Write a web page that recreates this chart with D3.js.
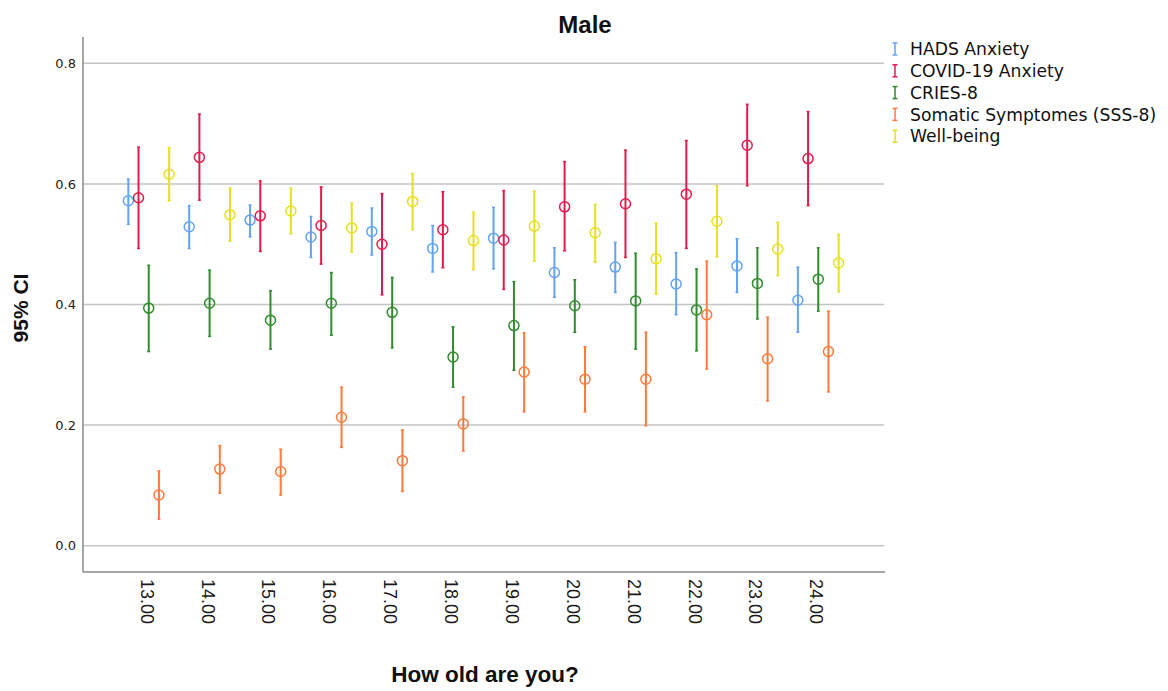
<!DOCTYPE html>
<html>
<head>
<meta charset="utf-8">
<script src="https://cdn.jsdelivr.net/npm/d3@7"></script>
<style>
  html, body { margin: 0; padding: 0; background: #fff; }
  svg { display: block; }
</style>
</head>
<body>
<svg id="chart" width="1168" height="691"></svg>
<script>
const ages = ["13.00","14.00","15.00","16.00","17.00","18.00","19.00","20.00","21.00","22.00","23.00","24.00"];
const seriesNames = ["HADS Anxiety","COVID-19 Anxiety","CRIES-8","Somatic Symptomes (SSS-8)","Well-being"];
const seriesColors = ["#64a3f2","#e21b4c","#2f8c2f","#fb7a3c","#e6df24"];
const yTicks = [0.0, 0.2, 0.4, 0.6, 0.8];

const hadsMean = [0.572,0.529,0.540,0.512,0.521,0.493,0.510,0.453,0.462,0.434,0.464,0.407];
const hadsLo   = [0.533,0.493,0.512,0.478,0.482,0.454,0.459,0.412,0.420,0.383,0.420,0.354];
const hadsHi   = [0.608,0.564,0.565,0.546,0.560,0.531,0.561,0.494,0.503,0.486,0.509,0.462];

const covidMean = [0.577,0.644,0.547,0.531,0.500,0.524,0.507,0.562,0.567,0.583,0.664,0.642];
const covidLo   = [0.493,0.573,0.488,0.467,0.416,0.461,0.425,0.489,0.478,0.493,0.597,0.564];
const covidHi   = [0.661,0.716,0.605,0.595,0.584,0.587,0.589,0.637,0.656,0.672,0.732,0.720];

const criesMean = [0.394,0.402,0.374,0.402,0.387,0.313,0.365,0.398,0.406,0.391,0.435,0.442];
const criesLo   = [0.322,0.347,0.326,0.349,0.328,0.263,0.291,0.354,0.326,0.323,0.376,0.389];
const criesHi   = [0.465,0.457,0.423,0.453,0.445,0.363,0.438,0.441,0.485,0.459,0.494,0.494];

const sssMean = [0.084,0.127,0.123,0.213,0.141,0.202,0.288,0.276,0.276,0.383,0.310,0.322];
const sssLo   = [0.044,0.087,0.084,0.163,0.090,0.157,0.222,0.222,0.199,0.293,0.240,0.255];
const sssHi   = [0.124,0.166,0.160,0.263,0.192,0.247,0.353,0.330,0.354,0.472,0.379,0.389];

const wbMean = [0.616,0.549,0.555,0.527,0.571,0.506,0.530,0.519,0.476,0.538,0.492,0.469];
const wbLo   = [0.572,0.505,0.517,0.487,0.524,0.458,0.472,0.470,0.417,0.479,0.448,0.421];
const wbHi   = [0.660,0.593,0.593,0.568,0.617,0.553,0.588,0.566,0.535,0.597,0.536,0.516];

const seriesMeans = [hadsMean, covidMean, criesMean, sssMean, wbMean];
const seriesLo = [hadsLo, covidLo, criesLo, sssLo, wbLo];
const seriesHi = [hadsHi, covidHi, criesHi, sssHi, wbHi];

const svg = d3.select("#chart");
const pLeft = 83, pRight = 884, pTop = 37, pBottom = 572;

const x = d3.scalePoint().domain(ages).range([pLeft, pRight]).padding(1.08);
const xOff = d3.scalePoint().domain(seriesNames).range([-20.4, 20.4]);
const y = d3.scaleLinear().domain([0, 0.8]).range([545.7, 63.3]);

// gridlines
svg.append("g").selectAll("line").data(yTicks).join("line")
  .attr("x1", pLeft).attr("x2", pRight)
  .attr("y1", d => y(d)).attr("y2", d => y(d))
  .attr("stroke", "#c4c4c4").attr("stroke-width", 1.5);

// y axis
const yAxis = d3.axisLeft(y).tickValues(yTicks).tickFormat(d3.format(".1f")).tickSize(0).tickPadding(7);
const gy = svg.append("g").attr("transform", `translate(${pLeft},0)`).call(yAxis);
gy.select(".domain").remove();
gy.selectAll("text").attr("font-family", "DejaVu Sans").attr("font-size", 13).attr("fill", "#222");

// x axis
const xAxis = d3.axisBottom(x).tickSize(0).tickPadding(0);
const gx = svg.append("g").attr("transform", `translate(-2,${pBottom})`).call(xAxis);
gx.select(".domain").remove();
gx.selectAll("text")
  .attr("font-family", "Liberation Sans, Arial, sans-serif").attr("font-size", 18).attr("fill", "#1a1a1a")
  .attr("text-anchor", "start")
  .attr("transform", "rotate(90)")
  .attr("x", 7).attr("y", 0).attr("dy", "0.36em");

// axis lines
svg.append("line").attr("x1", pLeft).attr("x2", pLeft).attr("y1", pTop).attr("y2", pBottom)
  .attr("stroke", "#8a8a8a").attr("stroke-width", 1.5);
svg.append("line").attr("x1", pLeft).attr("x2", pRight + 1).attr("y1", pBottom).attr("y2", pBottom)
  .attr("stroke", "#8a8a8a").attr("stroke-width", 1.5);

// data
const rows = [];
seriesNames.forEach((s, si) => {
  ages.forEach((a, i) => {
    rows.push({s, si, a, m: seriesMeans[si][i], lo: seriesLo[si][i], hi: seriesHi[si][i]});
  });
});
const g = svg.append("g");
const pts = g.selectAll("g.pt").data(rows).join("g").attr("class", "pt")
  .attr("transform", d => `translate(${x(d.a) + xOff(d.s)},0)`);
pts.append("line").attr("x1", 0).attr("x2", 0)
  .attr("y1", d => y(d.lo)).attr("y2", d => y(d.hi))
  .attr("stroke", d => seriesColors[d.si]).attr("stroke-width", 2);
pts.append("line").attr("x1", -1.5).attr("x2", 1.5)
  .attr("y1", d => y(d.lo)).attr("y2", d => y(d.lo))
  .attr("stroke", d => seriesColors[d.si]).attr("stroke-width", 1.5);
pts.append("line").attr("x1", -1.5).attr("x2", 1.5)
  .attr("y1", d => y(d.hi)).attr("y2", d => y(d.hi))
  .attr("stroke", d => seriesColors[d.si]).attr("stroke-width", 1.5);
pts.append("circle").attr("cx", 0).attr("cy", d => y(d.m)).attr("r", 5)
  .attr("fill", "none").attr("stroke", d => seriesColors[d.si]).attr("stroke-width", 1.5);

// title
svg.append("text").attr("x", 585).attr("y", 33).attr("text-anchor", "middle")
  .attr("font-family", "Liberation Sans, Arial, sans-serif").attr("font-weight", "bold")
  .attr("font-size", 24).attr("fill", "#111").text("Male");

// y title
svg.append("text").attr("transform", `translate(28,308) rotate(-90)`)
  .attr("text-anchor", "middle")
  .attr("font-family", "Liberation Sans, Arial, sans-serif").attr("font-weight", "bold")
  .attr("font-size", 21).attr("fill", "#111").text("95% CI");

// x title
svg.append("text").attr("x", 485).attr("y", 682).attr("text-anchor", "middle")
  .attr("font-family", "Liberation Sans, Arial, sans-serif").attr("font-weight", "bold")
  .attr("font-size", 22.5).attr("fill", "#111").text("How old are you?");

// legend
const lg = svg.append("g").selectAll("g").data(seriesNames).join("g")
  .attr("transform", (d, i) => `translate(895,${49 + i * 21.8})`);
lg.append("line").attr("x1", 0).attr("x2", 0).attr("y1", -6).attr("y2", 6)
  .attr("stroke", (d, i) => seriesColors[i]).attr("stroke-width", 1.5);
lg.append("line").attr("x1", -2.5).attr("x2", 2.5).attr("y1", -6).attr("y2", -6)
  .attr("stroke", (d, i) => seriesColors[i]).attr("stroke-width", 1.5);
lg.append("line").attr("x1", -2.5).attr("x2", 2.5).attr("y1", 6).attr("y2", 6)
  .attr("stroke", (d, i) => seriesColors[i]).attr("stroke-width", 1.5);
lg.append("text").attr("x", 15).attr("y", 0).attr("dy", "0.36em")
  .attr("font-family", "DejaVu Sans").attr("font-size", 17.2).attr("fill", "#111")
  .text(d => d);
</script>
</body>
</html>
